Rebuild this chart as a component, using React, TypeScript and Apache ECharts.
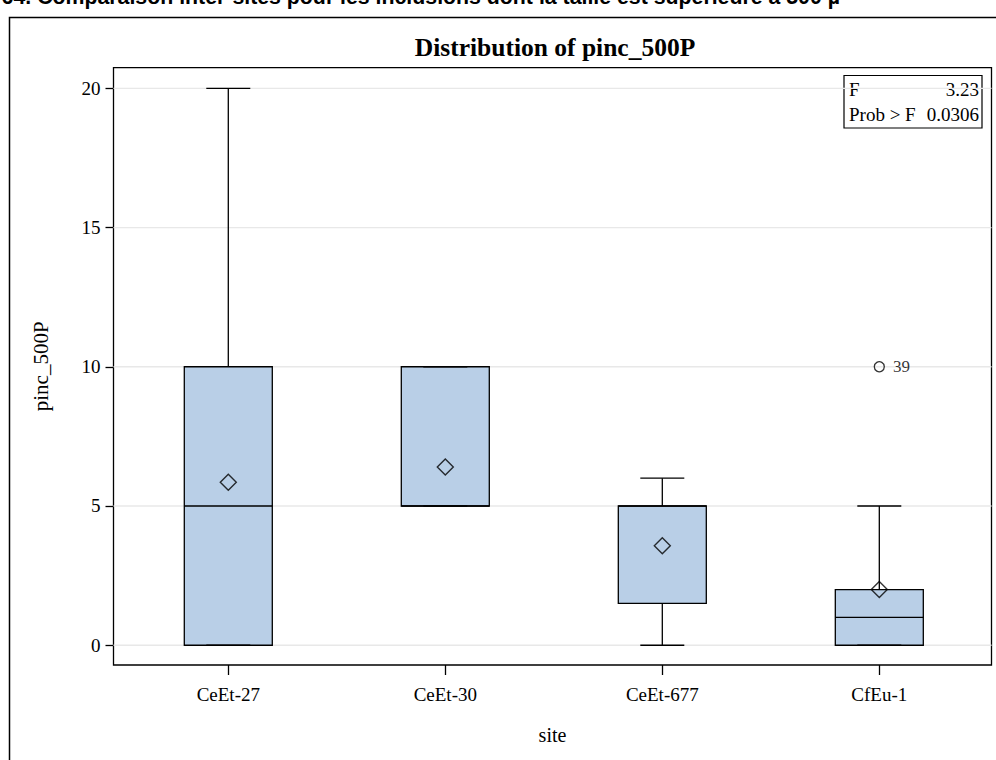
import React, { useEffect, useRef } from "react";
import * as echarts from "echarts";

// Five-number summaries per site
const sites = ["CeEt-27", "CeEt-30", "CeEt-677", "CfEu-1"];
const mins = [0, 5, 0, 0];
const q1s = [0, 5, 1.5, 0];
const medians = [5, 5, 5, 1];
const q3s = [10, 10, 5, 2];
const maxs = [20, 10, 6, 5];
const means = [5.85, 6.4, 3.57, 2.0];

// Outliers: site index, value, observation id
const outlierSite = [3];
const outlierValue = [10];
const outlierId = ["39"];

const yTicks = [0, 5, 10, 15, 20];
const xTicks = [1, 2, 3, 4];

const fStat = "3.23";
const pValue = "0.0306";

const SERIF = "'Liberation Serif', 'Times New Roman', serif";
const SANS = "'Liberation Sans', Arial, sans-serif";
const BOX_FILL = "#b9cfe7";
const X_MIN = 0.471;
const X_MAX = 4.517;

export default function App() {
  const ref = useRef<HTMLDivElement>(null);

  useEffect(() => {
    if (!ref.current) return;
    const chart = echarts.init(ref.current, null, { renderer: "svg" });

    const boxData = sites.map((_, i) => [i + 1, mins[i], q1s[i], medians[i], q3s[i], maxs[i]]);
    const meanData = sites.map((_, i) => [i + 1, means[i]]);
    const outlierData = outlierSite.map((s, i) => ({
      value: [s + 1, outlierValue[i]],
      id: outlierId[i],
    }));
    const gridData = yTicks.map((v) => [X_MIN, v]);

    const option: any = {
      animation: false,
      backgroundColor: "#fff",
      grid: {
        left: 113.5,
        right: 4.5,
        top: 67.7,
        bottom: 95,
        show: true,
        borderColor: "#000",
        borderWidth: 1.3,
        backgroundColor: "transparent",
        containLabel: false,
      },
      xAxis: {
        type: "value",
        min: X_MIN,
        max: X_MAX,
        name: "site",
        nameLocation: "middle",
        nameGap: 60,
        nameTextStyle: { fontFamily: SERIF, fontSize: 20, color: "#000" },
        axisLine: { show: false, onZero: false },
        splitLine: { show: false },
        axisTick: {
          show: true,
          customValues: xTicks,
          length: 10,
          lineStyle: { color: "#000", width: 1.3 },
        },
        axisLabel: {
          customValues: xTicks,
          margin: 20,
          fontFamily: SERIF,
          fontSize: 19,
          color: "#000",
          formatter: (v: number) => sites[Math.round(v) - 1] ?? "",
        },
      },
      yAxis: {
        type: "value",
        min: -0.71,
        max: 20.74,
        name: "pinc_500P",
        nameLocation: "middle",
        nameGap: 62,
        nameRotate: 90,
        nameTextStyle: { fontFamily: SERIF, fontSize: 21, color: "#000" },
        axisLine: { show: false, onZero: false },
        splitLine: { show: false },
        axisTick: {
          show: true,
          customValues: yTicks,
          length: 8,
          lineStyle: { color: "#000", width: 1.3 },
        },
        axisLabel: {
          customValues: yTicks,
          margin: 13,
          fontFamily: SERIF,
          fontSize: 19,
          color: "#000",
        },
      },
      graphic: [
        {
          type: "rect",
          shape: { x: 9.5, y: 17.5, width: 1000, height: 800 },
          style: { fill: "none", stroke: "#000", lineWidth: 1.5 },
          silent: true,
        },
        {
          type: "text",
          x: 840,
          y: -3.5,
          style: {
            text: "Figure 64. Comparaison inter-sites pour les inclusions dont la taille est supérieure à 500 µ",
            font: `bold 21.3px ${SANS}`,
            fill: "#000",
            align: "right",
            verticalAlign: "middle",
          },
        },
        {
          type: "text",
          x: 555,
          y: 47,
          style: {
            text: "Distribution of pinc_500P",
            font: `bold 25.5px ${SERIF}`,
            fill: "#000",
            align: "center",
            verticalAlign: "middle",
          },
        },
        {
          type: "group",
          x: 844,
          y: 75.5,
          children: [
            {
              type: "rect",
              shape: { x: 0, y: 0, width: 138, height: 52.5 },
              style: { fill: "#fff", stroke: "#000", lineWidth: 1.2 },
            },
            {
              type: "text",
              x: 5,
              y: 14,
              style: { text: "F", font: `19px ${SERIF}`, fill: "#000", verticalAlign: "middle" },
            },
            {
              type: "text",
              x: 135,
              y: 14,
              style: { text: fStat, font: `19px ${SERIF}`, fill: "#000", align: "right", verticalAlign: "middle" },
            },
            {
              type: "text",
              x: 5,
              y: 39,
              style: { text: "Prob > F", font: `19px ${SERIF}`, fill: "#000", verticalAlign: "middle" },
            },
            {
              type: "text",
              x: 135,
              y: 39,
              style: { text: pValue, font: `19px ${SERIF}`, fill: "#000", align: "right", verticalAlign: "middle" },
            },
          ],
        },
      ],
      series: [
        {
          // horizontal reference lines at the y ticks
          type: "custom",
          z: 1,
          silent: true,
          data: gridData,
          encode: { x: 0, y: 1 },
          renderItem: (params: any, api: any) => {
            const y = api.coord([X_MIN, api.value(1)])[1];
            const cs = params.coordSys;
            return {
              type: "line",
              shape: { x1: cs.x, y1: y, x2: cs.x + cs.width, y2: y },
              style: { stroke: "#e8e8e8", lineWidth: 1.3 },
            };
          },
        },
        {
          // boxes, whiskers and caps
          type: "custom",
          z: 2,
          data: boxData,
          encode: { x: 0, y: [1, 2, 3, 4, 5] },
          renderItem: (_params: any, api: any) => {
            const x = api.value(0);
            const pMin = api.coord([x, api.value(1)]);
            const pQ1 = api.coord([x, api.value(2)]);
            const pMed = api.coord([x, api.value(3)]);
            const pQ3 = api.coord([x, api.value(4)]);
            const pMax = api.coord([x, api.value(5)]);
            const cx = pMed[0];
            const half = 44;
            const cap = 22;
            const line = { stroke: "#000", lineWidth: 1.3 };
            return {
              type: "group",
              children: [
                { type: "line", shape: { x1: cx, y1: pQ3[1], x2: cx, y2: pMax[1] }, style: line },
                { type: "line", shape: { x1: cx, y1: pQ1[1], x2: cx, y2: pMin[1] }, style: line },
                {
                  type: "rect",
                  shape: { x: cx - half, y: pQ3[1], width: half * 2, height: pQ1[1] - pQ3[1] },
                  style: { fill: BOX_FILL, stroke: "#000", lineWidth: 1.3 },
                },
                { type: "line", shape: { x1: cx - cap, y1: pMax[1], x2: cx + cap, y2: pMax[1] }, style: line },
                { type: "line", shape: { x1: cx - cap, y1: pMin[1], x2: cx + cap, y2: pMin[1] }, style: line },
                { type: "line", shape: { x1: cx - half, y1: pMed[1], x2: cx + half, y2: pMed[1] }, style: line },
              ],
            };
          },
        },
        {
          type: "scatter",
          name: "Mean",
          z: 3,
          data: meanData,
          symbol: "diamond",
          symbolSize: 16,
          itemStyle: { color: "transparent", borderColor: "#000", borderWidth: 1.4 },
        },
        {
          type: "scatter",
          name: "Outlier",
          z: 3,
          data: outlierData,
          symbol: "circle",
          symbolSize: 10,
          itemStyle: { color: "transparent", borderColor: "#000", borderWidth: 1.3 },
          label: {
            show: true,
            position: "right",
            distance: 8,
            formatter: (p: any) => p.data.id,
            fontFamily: SERIF,
            fontSize: 17,
            color: "#000",
          },
        },
      ],
    };

    chart.setOption(option);
    return () => chart.dispose();
  }, []);

  return (
    <div
      ref={ref}
      style={{ position: "fixed", left: 0, top: 0, width: 996, height: 760 }}
    />
  );
}
